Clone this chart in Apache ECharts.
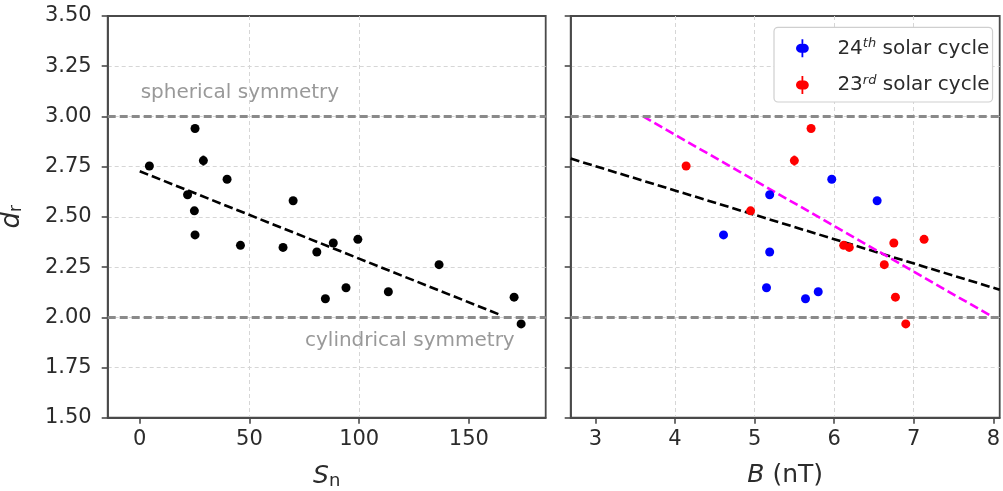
<!DOCTYPE html>
<html><head><meta charset="utf-8">
<script src="https://cdn.jsdelivr.net/npm/echarts@6/dist/echarts.min.js"></script>
<style>html,body{margin:0;padding:0;background:#fff}#c{width:1003px;height:491px}</style>
</head><body><div id="c"></div>
<script>
// ---- data ----
const dr     = [2.753, 2.94, 2.78, 2.687, 2.61, 2.53, 2.41, 2.358, 2.348, 2.58, 2.325, 2.37, 2.388, 2.092, 2.147, 2.127, 2.262, 2.10, 1.967];
const drErr  = [0.010, 0.012, 0.025, 0.008, 0.015, 0.008, 0.008, 0.008, 0.008, 0.008, 0.008, 0.008, 0.008, 0.008, 0.008, 0.008, 0.008, 0.008, 0.008];
const sn     = [4.4, 25.2, 29.0, 39.8, 21.8, 24.9, 25.2, 45.9, 65.3, 69.9, 80.7, 88.2, 99.4, 84.6, 94.0, 113.3, 136.4, 170.6, 173.8];
const bField = [4.14, 5.71, 5.50, 5.97, 5.19, 4.95, 4.61, 6.12, 6.19, 6.54, 5.19, 6.75, 7.13, 5.64, 5.15, 5.80, 6.63, 6.77, 6.90];
const cycle  = [23, 23, 23, 24, 24, 23, 24, 23, 23, 24, 24, 23, 23, 24, 24, 24, 23, 23, 23];
const fitSn      = [[0, 2.727], [165, 2.009]];
const fitB       = [[2.69, 2.79], [8.08, 2.137]];
const fitBSteep  = [[3.6, 3.0], [8.0, 2.0]];
const symmetryLevels = [3.0, 2.0];
const snTicks = [0, 50, 100, 150];
const bTicks  = [3, 4, 5, 6, 7, 8];
const cycleNames = {24: '24th solar cycle', 23: '23rd solar cycle'};
const cycleColors = {24: '#0000ff', 23: '#ff0000'};

// ---- styling ----
const FONT = 'DejaVu Sans';
const AX = '#4a4a4a';
const TXT = '#2b2b2b';

const chart = echarts.init(document.getElementById('c'), null, {renderer: 'canvas'});

function xAxisCfg(gi, min, max, splitNumber, ticks, nameRich, name) {
  return {
    type: 'value', gridIndex: gi, min: min, max: max, splitNumber: splitNumber,
    axisLine: {show: true, onZero: false, lineStyle: {color: AX, width: 1.8}},
    axisTick: {show: true, length: 6, customValues: ticks, lineStyle: {color: AX, width: 1.6}},
    axisLabel: {show: true, customValues: ticks, margin: 11, color: TXT, fontFamily: FONT, fontSize: 21},
    splitLine: {show: true, showMinLine: false, showMaxLine: false, lineStyle: {color: '#d6d6d6', width: 1, type: [4, 3]}},
    name: name, nameLocation: 'middle', nameGap: 45,
    nameTextStyle: {fontFamily: FONT, fontSize: 24, color: TXT, rich: nameRich}
  };
}
function yAxisCfg(gi, labels) {
  return {
    type: 'value', gridIndex: gi, min: 1.5, max: 3.5, interval: 0.25,
    axisLine: {show: true, onZero: false, lineStyle: {color: AX, width: 1.8}},
    axisTick: {show: true, length: 6, lineStyle: {color: AX, width: 1.6}},
    axisLabel: {show: labels, margin: 16, color: TXT, fontFamily: FONT, fontSize: 21,
      formatter: v => v.toFixed(2)},
    splitLine: {show: true, showMinLine: false, showMaxLine: false, lineStyle: {color: '#d6d6d6', width: 1, type: [4, 3]}},
    name: labels ? '{i|d}{s|r}' : '', nameLocation: 'middle', nameGap: 82, nameRotate: 90,
    nameTextStyle: {fontFamily: FONT, fontSize: 25, color: TXT,
      rich: {i: {fontFamily: FONT, fontSize: 26, fontStyle: 'italic', color: TXT},
             s: {fontFamily: FONT, fontSize: 17, color: TXT, padding: [8, 0, 0, 0]}}}
  };
}

const refLineMark = {
  silent: true, symbol: ['none', 'none'], label: {show: false},
  lineStyle: {color: '#8a8a8a', width: 3, type: [8, 4]},
  data: symmetryLevels.map(v => ({yAxis: v}))
};

function errSeries(name, gi, pts, color) {
  return {
    type: 'custom', name: name, xAxisIndex: gi, yAxisIndex: gi, silent: true, z: 3,
    data: pts,
    renderItem: function (params, api) {
      const x = api.value(0), y = api.value(1), e = api.value(2);
      const p1 = api.coord([x, y - e]), p2 = api.coord([x, y + e]);
      return {type: 'line', shape: {x1: p1[0], y1: p1[1], x2: p2[0], y2: p2[1]},
        style: {stroke: color, lineWidth: 2}};
    }
  };
}

const series = [];
// left panel
series.push({
  type: 'line', name: 'fitSn', xAxisIndex: 0, yAxisIndex: 0, data: fitSn, showSymbol: false, silent: true, z: 2,
  lineStyle: {color: '#000', width: 2.6, type: [9, 4]}, markLine: refLineMark
});
series.push(errSeries('errSn', 0, sn.map((s, i) => [s, dr[i], drErr[i]]), '#000'));
series.push({
  type: 'scatter', name: 'Sn', xAxisIndex: 0, yAxisIndex: 0, symbolSize: 9, z: 4,
  itemStyle: {color: '#000', opacity: 1}, data: sn.map((s, i) => [s, dr[i]])
});
// right panel
series.push({
  type: 'line', name: 'fitB', xAxisIndex: 1, yAxisIndex: 1, data: fitB, showSymbol: false, silent: true, z: 2,
  lineStyle: {color: '#000', width: 2.6, type: [9, 4]}, markLine: refLineMark
});
series.push({
  type: 'line', name: 'fitBSteep', xAxisIndex: 1, yAxisIndex: 1, data: fitBSteep, showSymbol: false, silent: true, z: 2,
  lineStyle: {color: '#ff00ff', width: 2.6, type: [9, 4]}
});
[24, 23].forEach(c => {
  const idx = cycle.map((v, i) => v === c ? i : -1).filter(i => i >= 0);
  series.push(errSeries('err' + c, 1, idx.map(i => [bField[i], dr[i], drErr[i]]), cycleColors[c]));
  series.push({
    type: 'scatter', name: cycleNames[c], xAxisIndex: 1, yAxisIndex: 1, symbolSize: 9, z: 4,
    itemStyle: {color: cycleColors[c], opacity: 1}, data: idx.map(i => [bField[i], dr[i]])
  });
});

const legendIcon = 'path://M4.2,0 L5.8,0 L5.8,4.1 A4,4 0 1 1 5.8,11.9 L5.8,16 L4.2,16 L4.2,11.9 A4,4 0 1 1 4.2,4.1 Z';

const gridCommon = {show: true, borderColor: AX, borderWidth: 1.8, backgroundColor: 'transparent',
  containLabel: false, outerBoundsMode: 'none'};

const option = {
  animation: false,
  backgroundColor: '#fff',
  grid: [
    Object.assign({left: 107.7, top: 16, width: 438, height: 401.7}, gridCommon),
    Object.assign({left: 570.7, top: 16, width: 429, height: 401.7}, gridCommon)
  ],
  xAxis: [
    xAxisCfg(0, -14.6, 185, 4, snTicks,
      {i: {fontFamily: FONT, fontSize: 25, fontStyle: 'italic', color: TXT},
       s: {fontFamily: FONT, fontSize: 18, color: TXT, padding: [10, 0, 0, 0]}}, '{i|S}{s|n}'),
    xAxisCfg(1, 2.69, 8.08, 5, bTicks,
      {i: {fontFamily: FONT, fontSize: 25, fontStyle: 'italic', color: TXT},
       n: {fontFamily: FONT, fontSize: 25, color: TXT}}, '{i|B}{n| (nT)}')
  ],
  yAxis: [yAxisCfg(0, true), yAxisCfg(1, false)],
  legend: {
    show: true, orient: 'vertical', left: 774, top: 27.3,
    data: [cycleNames[24], cycleNames[23]],
    icon: legendIcon, itemWidth: 30, itemHeight: 18, itemGap: 14.7,
    padding: [10, 3, 6, 22],
    backgroundColor: '#fff', borderColor: '#cfcfcf', borderWidth: 1.2, borderRadius: 4,
    textStyle: {fontFamily: FONT, fontSize: 20, color: TXT, lineHeight: 22, padding: [0, 0, 0, 15],
      rich: {n: {fontFamily: FONT, fontSize: 20, color: TXT, lineHeight: 22},
             sup: {fontFamily: FONT, fontSize: 13, fontStyle: 'italic', color: TXT, lineHeight: 22, padding: [0, 0, 9, 0]}}},
    formatter: function (name) {
      const m = name.match(/^(\d+)(th|rd)(.*)$/);
      return '{n|' + m[1] + '}{sup|' + m[2] + '}{n|' + m[3] + '}';
    }
  },
  graphic: [
    {type: 'text', left: 140.7, top: 82.5, silent: true,
     style: {text: 'spherical symmetry', fontFamily: FONT, fontSize: 20, fill: '#999'}},
    {type: 'text', left: 305, top: 331, silent: true,
     style: {text: 'cylindrical symmetry', fontFamily: FONT, fontSize: 20, fill: '#999'}}
  ],
  series: series
};
chart.setOption(option);
</script>
</body></html>
